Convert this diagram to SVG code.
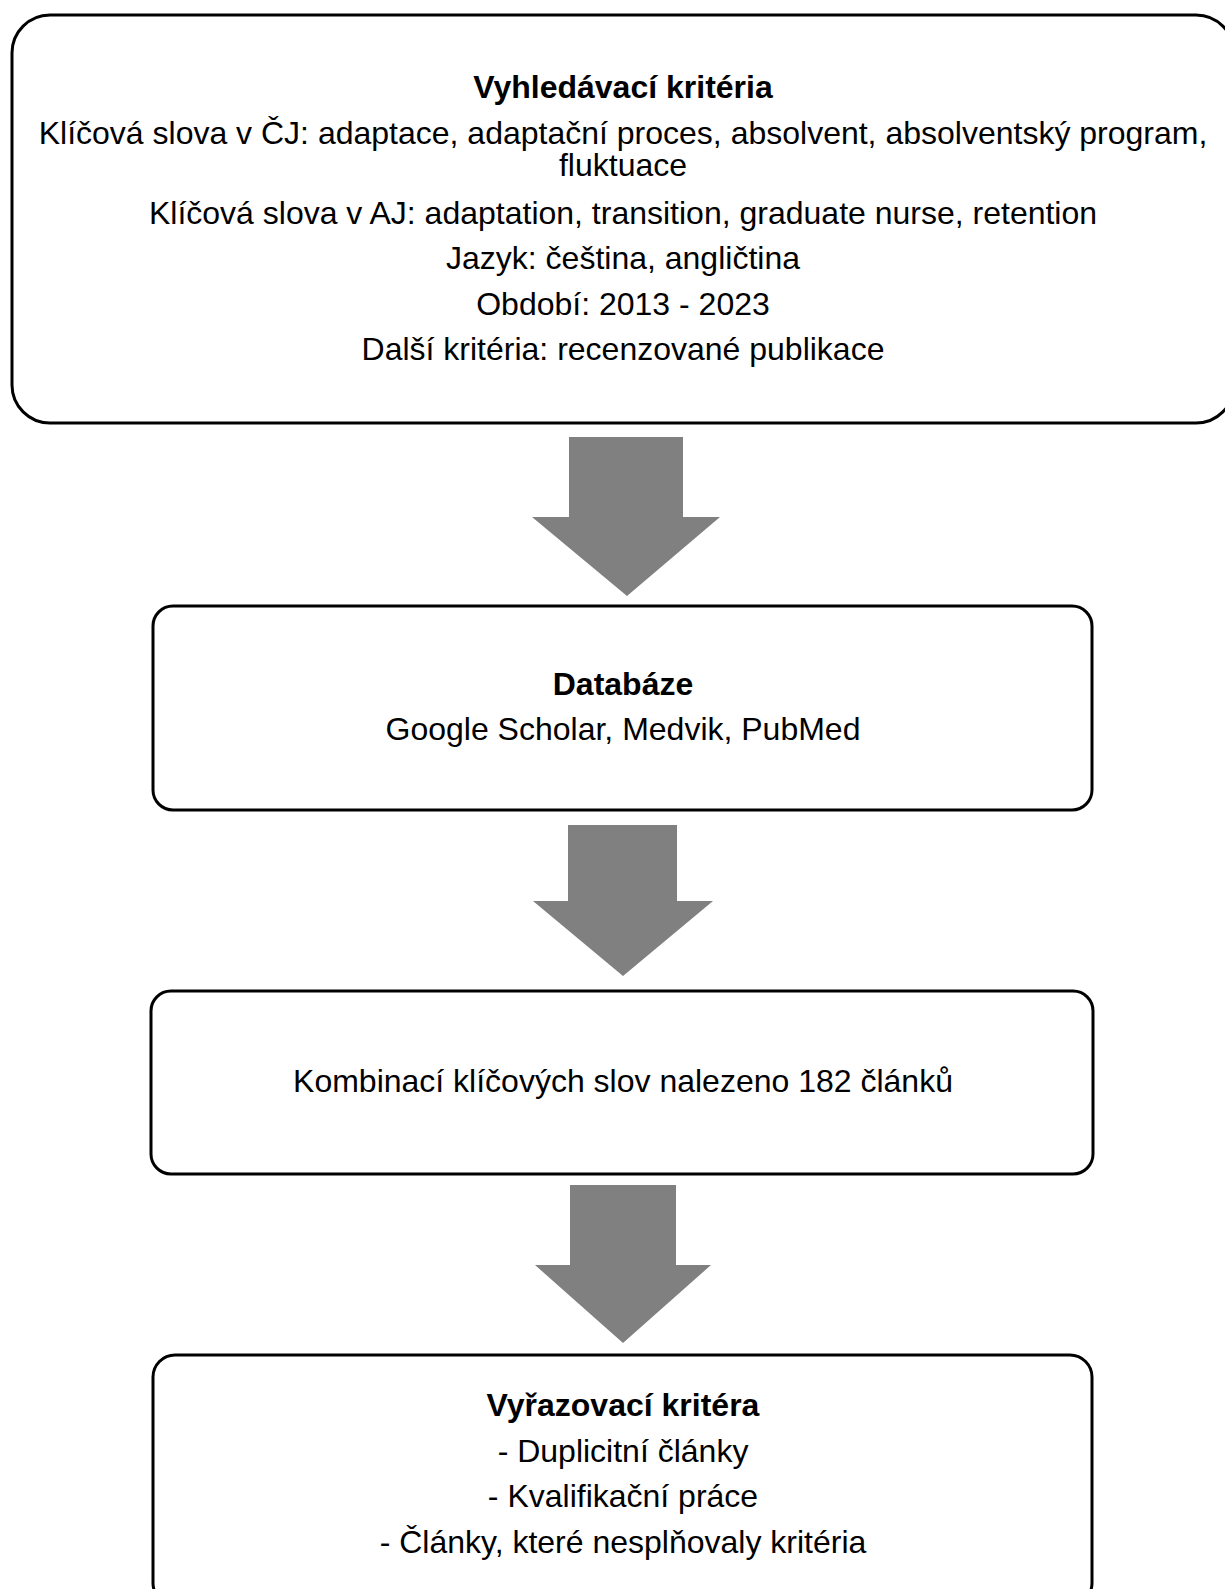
<svg xmlns="http://www.w3.org/2000/svg" width="1225" height="1589" viewBox="0 0 1225 1589">
<style>
.box{fill:#fff;stroke:#000;stroke-width:3}
.arr{fill:#808080;stroke:none}
text{font-family:"Liberation Sans",Arial,sans-serif;font-size:32px;fill:#000;text-anchor:middle}
.b{font-weight:bold}
</style>
<rect width="1225" height="1589" fill="#fff"/>
<g id="connectors">
<polygon class="arr" points="569,437 683,437 683,517 720,517 627,596 532,517 569,517"/>
<polygon class="arr" points="568,825 677,825 677,901 713,901 623,976 533,901 568,901"/>
<polygon class="arr" points="570,1185 676,1185 676,1265 711,1265 623,1343 535,1265 570,1265"/>
</g>
<g id="node-search">
<rect class="box" x="12" y="15" width="1222" height="408" rx="38" ry="38"/>
<text class="b" x="623" y="98">Vyhledávací kritéria</text>
<text x="623" y="144">Klíčová slova v ČJ: adaptace, adaptační proces, absolvent, absolventský program,</text>
<text x="623" y="176">fluktuace</text>
<text x="623" y="224">Klíčová slova v AJ: adaptation, transition, graduate nurse, retention</text>
<text x="623" y="269">Jazyk: čeština, angličtina</text>
<text x="623" y="315">Období: 2013 - 2023</text>
<text x="623" y="360">Další kritéria: recenzované publikace</text>
</g>
<g id="node-db">
<rect class="box" x="153" y="606" width="939" height="204" rx="20" ry="20"/>
<text class="b" x="623" y="695">Databáze</text>
<text x="623" y="740">Google Scholar, Medvik, PubMed</text>
</g>
<g id="node-found">
<rect class="box" x="151" y="991" width="942" height="183" rx="20" ry="20"/>
<text x="623" y="1092">Kombinací klíčových slov nalezeno 182 článků</text>
</g>
<g id="node-exclusion">
<rect class="box" x="153" y="1355" width="939" height="250" rx="22" ry="22"/>
<text class="b" x="623" y="1416">Vyřazovací kritéra</text>
<text x="623" y="1462">- Duplicitní články</text>
<text x="623" y="1507">- Kvalifikační práce</text>
<text x="623" y="1553">- Články, které nesplňovaly kritéria</text>
</g>
</svg>
